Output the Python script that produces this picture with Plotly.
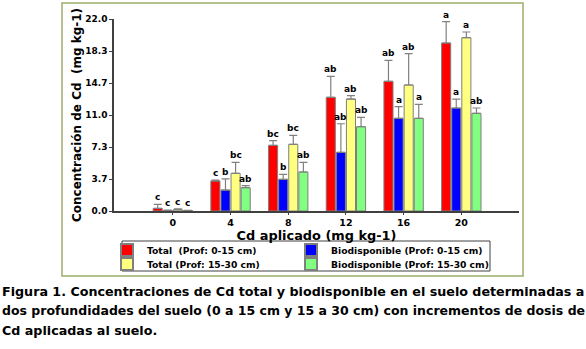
import plotly.graph_objects as go

categories = ["0", "4", "8", "12", "16", "20"]
series_names = ["Total  (Prof: 0-15 cm)", "Biodisponible (Prof: 0-15 cm)",
                "Total (Prof: 15-30 cm)", "Biodisponible (Prof: 15-30 cm)"]
total_0_15 = [0.30, 3.44, 7.52, 13.03, 14.86, 19.25]
total_0_15_err = [0.45, 0.10, 0.54, 2.40, 2.40, 2.44]
bio_0_15 = [0.05, 2.40, 3.63, 6.72, 10.62, 11.80]
bio_0_15_err = [0.05, 1.27, 0.57, 3.28, 1.33, 1.03]
total_15_30 = [0.15, 4.32, 7.64, 12.83, 14.44, 19.86]
total_15_30_err = [0.10, 1.26, 1.03, 0.38, 3.59, 0.65]
bio_15_30 = [0.05, 2.67, 4.47, 9.66, 10.62, 11.19]
bio_15_30_err = [0.03, 0.23, 1.11, 1.07, 1.60, 0.61]
lab_total_0_15 = ["c", "c", "bc", "ab", "ab", "a"]
lab_bio_0_15 = ["c", "b", "b", "ab", "a", "a"]
lab_total_15_30 = ["c", "bc", "bc", "ab", "ab", "a"]
lab_bio_15_30 = ["c", "ab", "ab", "ab", "a", "ab"]
y_ticks = [0.0, 22 / 6, 44 / 6, 11.0, 88 / 6, 110 / 6, 22.0]
y_tick_text = ["0.0", "3.7", "7.3", "11.0", "14.7", "18.3", "22.0"]
caption_lines = [
    "Figura 1. Concentraciones de Cd total y biodisponible en el suelo determinadas a",
    "dos profundidades del suelo (0 a 15 cm y 15 a 30 cm) con incrementos de dosis de",
    "Cd aplicadas al suelo.",
]

colors = ["#ff0000", "#0000ff", "#ffff80", "#80ff80"]
values = [total_0_15, bio_0_15, total_15_30, bio_15_30]
errs = [total_0_15_err, bio_0_15_err, total_15_30_err, bio_15_30_err]
labels = [lab_total_0_15, lab_bio_0_15, lab_total_15_30, lab_bio_15_30]

FONT = "DejaVu Sans, sans-serif"
W, H = 586, 349
L, R, T, B = 114, 67, 19, 138
PW, PH = W - L - R, H - T - B


def px_x(x):
    return (x - L) / PW


def px_y(y):
    return (H - B - y) / PH


xpos = list(range(len(categories)))
bargap = 0.3
slot = (1 - bargap) / 4
legend_ids = ["legend", "legend2", "legend3", "legend4"]
legend_px = [(107, 250), (291, 250), (107, 264), (291, 264)]

fig = go.Figure()
for k in range(4):
    fig.add_trace(go.Bar(
        x=xpos, y=values[k], name=series_names[k].replace("  ", "&nbsp; "), legend=legend_ids[k],
        marker=dict(color=colors[k], line=dict(color="#7f7f7f", width=1)),
        error_y=dict(type="data", array=errs[k], arrayminus=[0] * len(categories),
                     symmetric=False, color="#808080", thickness=1.2, width=4),
    ))

annotations = []
for k in range(4):
    off = -(1 - bargap) / 2 + slot * (k + 0.5)
    for i in range(len(categories)):
        annotations.append(dict(
            x=xpos[i] + off, y=values[k][i] + errs[k][i], xref="x", yref="y",
            text="<b>" + labels[k][i] + "</b>", showarrow=False, yanchor="bottom", yshift=0,
            font=dict(family=FONT, size=9, color="black"),
        ))

caption_sizes = [12.7, 12.5, 12.7]
for j, line in enumerate(caption_lines):
    annotations.append(dict(
        x=px_x(0), y=px_y(291 + j * 19.5), xref="paper", yref="paper", text="<b>" + line + "</b>",
        showarrow=False, xanchor="left", yanchor="middle",
        font=dict(family=FONT, size=caption_sizes[j], color="black"),
    ))

layout_legends = {}
for k in range(4):
    lx, ly = legend_px[k]
    layout_legends[legend_ids[k]] = dict(
        orientation="h", xanchor="left", yanchor="middle",
        x=px_x(lx), y=px_y(ly),
        borderwidth=0, bgcolor="rgba(0,0,0,0)",
        font=dict(family=FONT, size=9.2, color="black", weight="bold"),
        itemsizing="constant",
    )

fig.update_layout(
    width=W, height=H,
    margin=dict(l=L, r=R, t=T, b=B),
    paper_bgcolor="white", plot_bgcolor="white",
    barmode="group", bargap=bargap, bargroupgap=0.1,
    font=dict(family=FONT, color="black"),
    showlegend=True,
    **layout_legends,
    xaxis=dict(
        range=[-1.02, 6.0], tickvals=xpos, ticktext=["<b>%s</b>" % c for c in categories],
        showline=True, linecolor="#404040", linewidth=2, ticks="outside", ticklen=2,
        tickcolor="#404040", showgrid=False, zeroline=False,
        tickfont=dict(family=FONT, size=9.5, color="black"),
        title=dict(text="<b>Cd aplicado (mg kg-1)</b>", font=dict(family=FONT, size=12.9, color="black"),
                   standoff=0),
    ),
    yaxis=dict(
        range=[0, 22], tickvals=y_ticks, ticktext=["<b>%s</b>" % t for t in y_tick_text],
        showline=True, linecolor="#404040", linewidth=1.5, ticks="outside", ticklen=3,
        tickcolor="#404040", showgrid=False, zeroline=False,
        tickfont=dict(family=FONT, size=9, color="black"),
        title=dict(text="<b>Concentración de Cd  (mg kg-1)</b>", font=dict(family=FONT, size=12, color="black"),
                   standoff=1),
    ),
    annotations=annotations,
    shapes=[
        dict(type="rect", xref="paper", yref="paper",
             x0=px_x(62), x1=px_x(523), y0=px_y(276), y1=px_y(3),
             line=dict(color="#9bad6a", width=1.5), fillcolor="rgba(0,0,0,0)", layer="below"),
        dict(type="rect", xref="paper", yref="paper",
             x0=px_x(122), x1=px_x(490), y0=px_y(271), y1=px_y(241),
             line=dict(color="#404040", width=1), fillcolor="white", layer="below"),
    ],
)

fig.write_html("out.html")
